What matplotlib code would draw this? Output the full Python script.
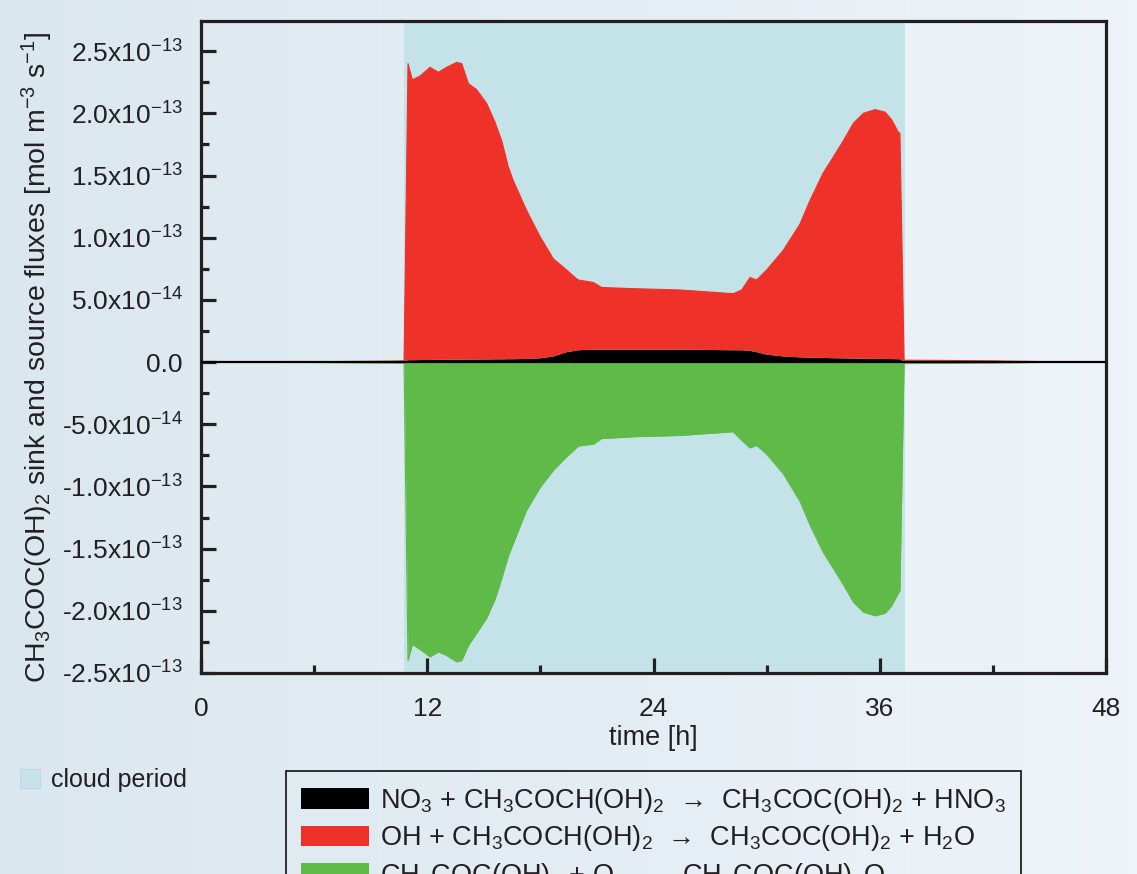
import numpy as np
import matplotlib
matplotlib.use("Agg")
import matplotlib.pyplot as plt
from matplotlib.patches import Patch
from matplotlib.colors import LinearSegmentedColormap
from matplotlib.ticker import FixedLocator, FuncFormatter

plt.rcParams['font.family'] = ['Liberation Sans', 'DejaVu Sans']
plt.rcParams['mathtext.default'] = 'regular'

# time [h]
time = [0.0, 4.0, 8.0, 10.0, 10.77, 10.98, 11.21, 11.62, 12.15, 12.59, 13.03, 13.56,
        13.83, 14.18, 14.62, 15.15, 15.59, 15.95, 16.30, 16.56, 17.27, 17.98, 18.69,
        19.40, 19.84, 20.01, 20.81, 21.25, 23.0, 25.4, 28.23, 28.68, 29.12, 29.47,
        30.0, 30.89, 31.77, 32.3, 33.0, 33.54, 34.07, 34.6, 35.13, 35.75, 36.28,
        36.63, 36.98, 37.07, 37.29, 39.0, 42.0, 45.0, 48.0]

# fluxes in units of 1e-14 mol m-3 s-1
no3 = [0.0, 0.0, 0.0, 0.01, 0.01, 0.15, 0.15, 0.16, 0.17, 0.18, 0.18, 0.19,
       0.19, 0.2, 0.2, 0.21, 0.22, 0.22, 0.23, 0.23, 0.25, 0.3, 0.45,
       0.8, 0.9, 0.95, 1.0, 1.0, 1.0, 1.0, 0.95, 0.95, 0.9, 0.8,
       0.6, 0.45, 0.38, 0.35, 0.33, 0.31, 0.3, 0.28, 0.27, 0.26, 0.25,
       0.24, 0.23, 0.23, 0.02, 0.01, 0.0, 0.0, 0.0]

oh = [0.0, 0.02, 0.05, 0.07, 0.09, 23.85, 22.55, 22.84, 23.53, 23.12, 23.52, 23.91,
      23.81, 22.2, 21.7, 20.59, 19.08, 17.58, 15.47, 14.37, 11.95, 9.8, 7.85,
      6.6, 5.9, 5.65, 5.4, 5.0, 4.9, 4.8, 4.55, 4.85, 5.9, 5.8,
      6.8, 8.55, 10.72, 12.65, 14.87, 16.19, 17.5, 18.92, 19.73, 20.04, 19.85,
      19.26, 18.27, 18.17, 0.13, 0.13, 0.10, 0.03, 0.0]

o2 = [0.0, -0.02, -0.05, -0.08, -0.10, -24.0, -22.7, -23.1, -23.7, -23.3, -23.6, -24.1,
      -24.0, -22.8, -21.8, -20.6, -19.1, -17.4, -15.6, -14.6, -11.9, -10.1, -8.7,
      -7.6, -7.0, -6.75, -6.6, -6.15, -6.0, -5.9, -5.6, -6.3, -6.9, -6.7,
      -7.4, -9.0, -11.2, -13.1, -15.3, -16.6, -17.9, -19.3, -20.1, -20.4, -20.2,
      -19.6, -18.6, -18.4, -0.12, -0.10, -0.07, -0.02, 0.0]

cloud = (10.77, 37.34)

arrow = '  \u2192  '
labels = [r'NO$_3$ + CH$_3$COCH(OH)$_2$' + arrow + r'CH$_3$COC(OH)$_2$ + HNO$_3$',
          r'OH + CH$_3$COCH(OH)$_2$' + arrow + r'CH$_3$COC(OH)$_2$ + H$_2$O',
          r'CH$_3$COC(OH)$_2$ + O$_2$' + arrow + r'CH$_3$COC(OH)$_2$O$_2$']

c_red = '#ee322a'
c_green = '#5fba47'
c_black = '#000000'
c_cloud = '#c4e3e9'
c_text = '#231f20'

t = np.array(time)
s = 1e-14

fig = plt.figure(figsize=(11.37, 8.74), dpi=100)

# light poster background
bg = fig.add_axes([0, 0, 1, 1], zorder=-10)
cmap = LinearSegmentedColormap.from_list('bg', ['#dbe7ef', '#e4edf4', '#eef4f9'])
bg.imshow(np.linspace(0, 1, 256).reshape(1, -1), aspect='auto', cmap=cmap,
          extent=[0, 1, 0, 1])
bg.axis('off')

ax = fig.add_axes([201/1137, 1 - 673/874, 905/1137, 652.3/874])
ax.set_facecolor('none')

ax.axvspan(cloud[0], cloud[1], color=c_cloud, lw=0, zorder=0)
ax.stackplot(t, np.array(no3) * s, np.array(oh) * s, colors=[c_black, c_red],
             lw=0, zorder=2)
ax.fill_between(t, 0, np.array(o2) * s, color=c_green, lw=0, zorder=2)
ax.plot(t, (np.array(oh) + np.array(no3)) * s, color=c_red, lw=0.8, zorder=2)
ax.plot(t, np.array(o2) * s, color=c_green, lw=0.8, zorder=2)
ax.axhline(0, color='black', lw=1.6, zorder=3)

ax.set_xlim(0, 48)
ax.set_ylim(-2.5e-13, 2.745e-13)

ax.xaxis.set_major_locator(FixedLocator([0, 12, 24, 36, 48]))
ax.xaxis.set_minor_locator(FixedLocator([6, 18, 30, 42]))
yt = np.arange(-5, 6) * 5e-14
ax.yaxis.set_major_locator(FixedLocator(yt))
ax.yaxis.set_minor_locator(FixedLocator(np.arange(-9, 11, 2) * 2.5e-14))


def fmt(v, pos):
    if abs(v) < 1e-20:
        return '0.0'
    e = int(np.floor(np.log10(abs(v))))
    m = v / 10**e
    return '%.1fx10$^{%d}$' % (m, e)


ax.yaxis.set_major_formatter(FuncFormatter(fmt))

for sp in ax.spines.values():
    sp.set_linewidth(2.3)
    sp.set_color(c_text)
ax.tick_params(which='both', direction='in', width=2.3, color=c_text,
               labelcolor=c_text, labelsize=19, top=False, right=False)
ax.tick_params(which='major', length=11)
ax.tick_params(which='minor', length=6)
ax.tick_params(axis='x', pad=17)
ax.tick_params(axis='y', pad=13)

ax.set_xlabel('time [h]', fontsize=19.5, color=c_text, labelpad=3)
ax.set_ylabel(r'CH$_3$COC(OH)$_2$ sink and source fluxes [mol m$^{-3}$ s$^{-1}$]',
              fontsize=20.5, color=c_text)
ax.yaxis.set_label_coords(-0.161, 0.484)

handles = [Patch(fc=c_black), Patch(fc=c_red), Patch(fc=c_green)]
leg = fig.legend(handles, labels, loc='upper left',
                 bbox_to_anchor=(286/1137, 1 - 771/874), borderaxespad=0,
                 fontsize=19.5, frameon=True, fancybox=False, facecolor='none',
                 edgecolor=c_text, framealpha=1, handlelength=2.5,
                 handleheight=0.8, handletextpad=0.42, labelspacing=0.28,
                 borderpad=0.55)
leg.get_frame().set_linewidth(1.3)
for txt in leg.get_texts():
    txt.set_color(c_text)

leg2 = fig.legend([Patch(fc=c_cloud, ec='#c8d3e6', lw=0.8)], ['cloud period'],
                  loc='upper left', bbox_to_anchor=(20/1137, 1 - 768/874),
                  borderaxespad=0, borderpad=0, frameon=False, fontsize=18,
                  handlelength=0.8, handleheight=0.8, handletextpad=0.45)
for txt in leg2.get_texts():
    txt.set_color(c_text)

fig.savefig('out.png', dpi=100)
